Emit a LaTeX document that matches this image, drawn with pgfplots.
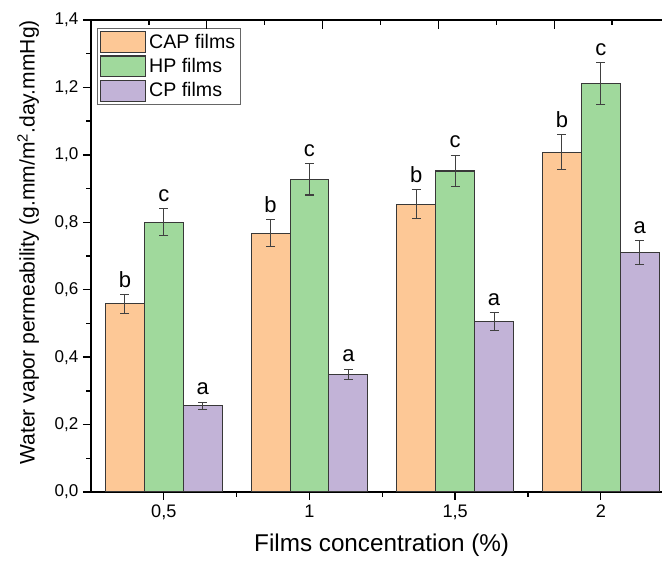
\documentclass[border=0pt]{standalone}
\usepackage{fontspec}
\setmainfont{Liberation Sans}
\usepackage{pgfplots}
\usepackage{pgfplotstable}
\pgfplotsset{compat=1.18}

\definecolor{capc}{HTML}{FDC896}
\definecolor{hpc}{HTML}{A0D99C}
\definecolor{cpc}{HTML}{C2B3D7}
\definecolor{edge}{HTML}{383838}

% x = category index (0 -> 0,5 ; 1 -> 1 ; 2 -> 1,5 ; 3 -> 2)
\pgfplotstableread{
x y err lab
0 0.558 0.028 b
1 0.768 0.039 b
2 0.853 0.043 b
3 1.008 0.051 b
}\capdata
\pgfplotstableread{
x y err lab
0 0.800 0.040 c
1 0.927 0.046 c
2 0.952 0.047 c
3 1.211 0.062 c
}\hpdata
\pgfplotstableread{
x y err lab
0 0.256 0.010 a
1 0.349 0.015 a
2 0.506 0.026 a
3 0.710 0.035 a
}\cpdata

\begin{document}
\begin{tikzpicture}
\useasboundingbox (-68.25pt,-53.25pt) rectangle (428.25pt,369pt);
\begin{axis}[
  scale only axis, width=428.25pt, height=354pt,
  xmin=-0.5, xmax=3.42, ymin=0, ymax=1.4,
  axis x line*=bottom, axis y line*=left,
  axis line style={line width=1pt, black},
  ybar=0pt, bar width=0.267,
  xtick={0,1,2,3}, xticklabels={{0,5},1,{1,5},2},
  minor xtick={0.5,1.5,2.5},
  ytick={0,0.2,0.4,0.6,0.8,1.0,1.2,1.4},
  minor ytick={0.1,0.3,0.5,0.7,0.9,1.1,1.3},
  yticklabel style={font=\fontsize{12.8}{15}\selectfont,
    /pgf/number format/.cd, fixed, fixed zerofill, precision=1, use comma, assume math mode=true},
  xticklabel style={font=\fontsize{13.6}{16}\selectfont},
  tick align=outside,
  major tick length=6pt, minor tick length=3.5pt,
  every tick/.style={black, line width=1pt},
  xlabel={Films concentration (\%)},
  ylabel={Water vapor permeability (g.mm/m\textsuperscript{2}.day.mmHg)},
  xlabel style={at={(axis description cs:0.509,-0.1123)}, anchor=center, font=\fontsize{18.2}{20}\selectfont},
  ylabel style={at={(axis description cs:-0.110,0.529)}, anchor=center, font=\fontsize{15.8}{18}\selectfont},
  error bars/y dir=both, error bars/y explicit,
  error bars/error bar style={line width=0.8pt, black!75},
  error bars/error mark options={rotate=90, line width=0.8pt, black!75, mark size=3.4pt},
  legend style={at={(axis description cs:0.0105,0.983)}, anchor=north west,
    draw=black!60, line width=0.6pt, font=\fontsize{14.7}{16}\selectfont,
    inner sep=2pt, row sep=2pt, cells={anchor=west}},
  legend image code/.code={\draw[#1, line width=0.8pt] (0pt,-7.7pt) rectangle (34pt,7.8pt);},
  every node near coord/.append style={anchor=south, inner sep=1pt, yshift=4pt,
    shift={(axis direction cs:0,\myerr)}, font=\fontsize{16.5}{18}\selectfont, text=black},
]
\addplot[fill=capc, draw=edge, line width=0.8pt, nodes near coords, point meta=explicit symbolic,
  visualization depends on={\thisrow{err}\as\myerr}]
  table[x=x, y=y, y error=err, meta=lab] {\capdata};
\addplot[fill=hpc, draw=edge, line width=0.8pt, nodes near coords, point meta=explicit symbolic,
  visualization depends on={\thisrow{err}\as\myerr}]
  table[x=x, y=y, y error=err, meta=lab] {\hpdata};
\addplot[fill=cpc, draw=edge, line width=0.8pt, nodes near coords, point meta=explicit symbolic,
  visualization depends on={\thisrow{err}\as\myerr}]
  table[x=x, y=y, y error=err, meta=lab] {\cpdata};
\legend{CAP films, HP films, CP films}
\end{axis}
% top axis with its own tick spacing, as in the original
\begin{axis}[
  scale only axis, width=428.25pt, height=354pt,
  xmin=0, xmax=4.931, ymin=0, ymax=1,
  axis x line*=top, axis y line=none,
  axis line style={line width=1pt, black},
  xtick={0,1,2,3,4}, xticklabels={},
  minor xtick={0.5,1.5,2.5,3.5,4.5},
  ytick=\empty,
  tick align=inside,
  major tick length=6.5pt, minor tick length=3.5pt,
  every tick/.style={black, line width=1pt},
]
\end{axis}
\end{tikzpicture}
\end{document}
